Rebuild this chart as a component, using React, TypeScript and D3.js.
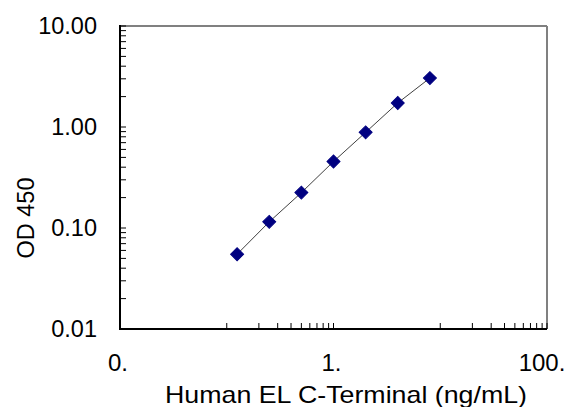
import React, { useEffect, useRef } from "react";
import * as d3 from "d3";

const concentrations = [0.125, 0.25, 0.5, 1, 2, 4, 8];
const odValues = [0.055, 0.115, 0.224, 0.455, 0.885, 1.73, 3.05];
const yTickValues = [0.01, 0.1, 1, 10];
const xTickValues = [0.01, 1, 100];
const xTickLabels = ["0.", "1.", "100."];
const xTitle = "Human EL C-Terminal (ng/mL)";
const yTitle = "OD 450";

const W = 569;
const H = 407;
const M = { left: 120, right: 547, top: 26, bottom: 329 };
const FONT = "'Liberation Sans', Arial, sans-serif";

export default function App() {
  const ref = useRef<SVGSVGElement | null>(null);

  useEffect(() => {
    const svg = d3.select(ref.current);
    svg.selectAll("*").remove();

    const x = d3.scaleLog().domain([0.01, 100]).range([M.left, M.right]);
    const y = d3.scaleLog().domain([0.01, 10]).range([M.bottom, M.top]);

    const xMinor: number[] = [];
    [0.1, 10].forEach((b) => {
      for (let k = 1; k <= 9; k++) xMinor.push(b * k);
    });
    const yMinor: number[] = [];
    [0.01, 0.1, 1].forEach((b) => {
      for (let k = 2; k <= 9; k++) yMinor.push(b * k);
    });

    const g = svg.append("g");

    g.append("line").attr("x1", M.left).attr("x2", M.right).attr("y1", M.top).attr("y2", M.top)
      .attr("stroke", "#808080").attr("stroke-width", 2);
    g.append("line").attr("x1", M.right).attr("x2", M.right).attr("y1", M.top).attr("y2", M.bottom)
      .attr("stroke", "#808080").attr("stroke-width", 2);

    [...yTickValues, ...yMinor].forEach((v) => {
      g.append("line").attr("x1", M.left).attr("x2", M.left + 6)
        .attr("y1", y(v)).attr("y2", y(v)).attr("stroke", "#000").attr("stroke-width", 1);
    });
    [...xTickValues, ...xMinor].forEach((v) => {
      g.append("line").attr("x1", x(v)).attr("x2", x(v))
        .attr("y1", M.bottom).attr("y2", M.bottom - 6).attr("stroke", "#000").attr("stroke-width", 1);
    });

    g.append("line").attr("x1", M.left).attr("x2", M.left).attr("y1", M.top - 1).attr("y2", M.bottom + 1)
      .attr("stroke", "#000").attr("stroke-width", 2);
    g.append("line").attr("x1", M.left - 1).attr("x2", M.right).attr("y1", M.bottom).attr("y2", M.bottom)
      .attr("stroke", "#000").attr("stroke-width", 2);

    yTickValues.forEach((v) => {
      g.append("text").attr("x", 97).attr("y", y(v)).attr("dy", "0.36em")
        .attr("text-anchor", "end").attr("font-family", FONT).attr("font-size", 23.5)
        .attr("fill", "#000").text(d3.format(".2f")(v));
    });
    xTickValues.forEach((v, i) => {
      g.append("text").attr("x", Math.min(x(v) - 2, 542)).attr("y", 371)
        .attr("text-anchor", "middle").attr("font-family", FONT).attr("font-size", 24)
        .attr("fill", "#000").text(xTickLabels[i]);
    });

    g.append("text").attr("x", 165).attr("y", 403).attr("text-anchor", "start")
      .attr("font-family", FONT).attr("font-size", 24).attr("fill", "#000")
      .attr("textLength", 362).attr("lengthAdjust", "spacingAndGlyphs").text(xTitle);
    g.append("text").attr("transform", `translate(34,218) rotate(-90)`).attr("text-anchor", "middle")
      .attr("font-family", FONT).attr("font-size", 23.5).attr("fill", "#000").text(yTitle);

    const line = d3.line<number>().x((_, i) => x(concentrations[i])).y((d) => y(d));
    g.append("path").attr("d", line(odValues)).attr("fill", "none")
      .attr("stroke", "#404040").attr("stroke-width", 1);

    const sym = d3.symbol().type(d3.symbolSquare).size(84);
    odValues.forEach((v, i) => {
      g.append("path").attr("d", sym()).attr("fill", "#000080").attr("stroke", "#000080").attr("stroke-width", 1)
        .attr("transform", `translate(${x(concentrations[i])},${y(v)}) rotate(45)`);
    });
  }, []);

  return (
    <svg ref={ref} width={W} height={H}
      style={{ position: "absolute", left: 0, top: 0, background: "#fff" }} />
  );
}
